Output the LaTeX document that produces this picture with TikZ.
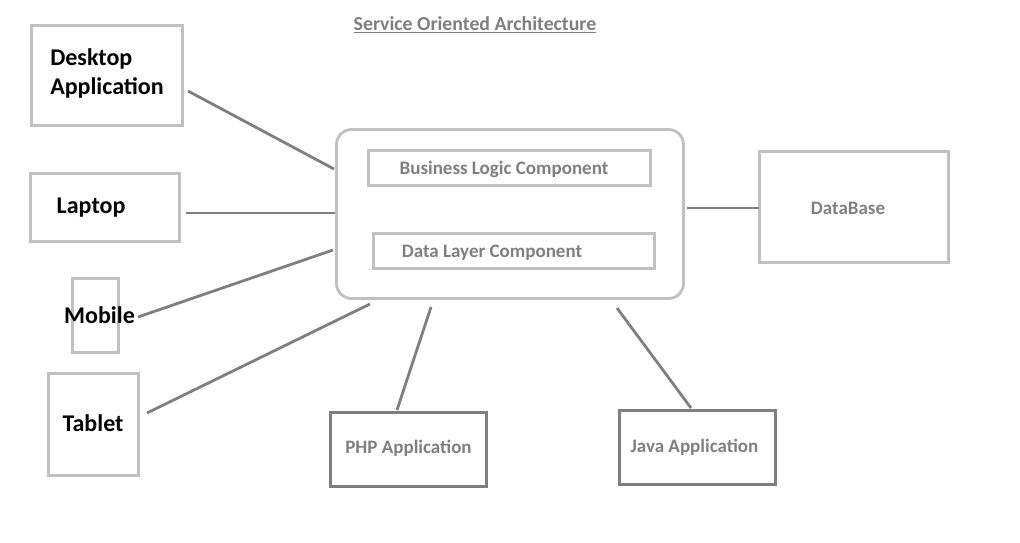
\documentclass[tikz,border=0pt]{standalone}
\usepackage{fontspec}
\setmainfont{Carlito}
\usetikzlibrary{positioning}
\definecolor{boxgray}{RGB}{192,192,192}
\definecolor{linegray}{RGB}{127,127,127}
\tikzset{
  lightbox/.style={draw=boxgray, line width=2.8pt, inner sep=0pt},
  darkbox/.style={draw=linegray, line width=2.8pt, inner sep=0pt},
  link/.style={draw=linegray, line width=2.8pt},
  bigtxt/.style={font=\fontsize{24}{29}\selectfont\bfseries, text=black},
  smalltxt/.style={font=\fontsize{19}{22}\selectfont\bfseries, text=linegray},
}

\begin{document}
\begin{tikzpicture}[x=1pt,y=-1pt]
  \useasboundingbox (0,0) rectangle (1020,542);
  \node (title) at (475,25) [smalltxt, font=\fontsize{19.8}{22}\selectfont\bfseries]{\underline{Service Oriented Architecture}};

  % clients on the left
  \node (desk) at (107,75.5) [lightbox, minimum width=151, minimum height=100,
    label={[bigtxt, align=left, yshift=2pt]center:Desktop\\Application}]{};
  \node (lap) at (105,207.5) [lightbox, minimum width=149, minimum height=68,
    label={[bigtxt, xshift=-14pt, yshift=0pt]center:Laptop}]{};
  \node (mob) at (95.5,315.5) [lightbox, minimum width=46, minimum height=74,
    label={[bigtxt, xshift=4pt, yshift=0pt]center:Mobile}]{};
  \node (tab) at (93.5,424.5) [lightbox, minimum width=90, minimum height=102,
    label={[bigtxt, xshift=-0.5pt, yshift=1pt]center:Tablet}]{};

  % service
  \node (soa) at (510,214) [lightbox, rounded corners=15pt, minimum width=347, minimum height=169]{};
  \node (bl) at (509.5,168) [lightbox, minimum width=282, minimum height=35,
    label={[smalltxt, xshift=-5.5pt, yshift=-1pt]center:Business Logic Component}]{};
  \node (dl) at (514,251) [lightbox, minimum width=281, minimum height=35,
    label={[smalltxt, xshift=-22pt, yshift=-1.5pt]center:Data Layer Component}]{};

  \node (db) at (854,207) [lightbox, minimum width=189, minimum height=111,
    label={[smalltxt, xshift=-6pt, yshift=-1.5pt]center:DataBase}]{};
  \node (php) at (408.5,449.5) [darkbox, minimum width=156, minimum height=74,
    label={[smalltxt, yshift=1pt]center:PHP Application}]{};
  \node (java) at (697.5,447.5) [darkbox, minimum width=156, minimum height=74,
    label={[smalltxt, xshift=-3pt, yshift=0pt]center:Java Application}]{};

  % connector ends
  \coordinate (desk-e) at (188,91);   \coordinate (soa-desk) at (334,169);
  \coordinate (lap-e) at (186,213);   \coordinate (soa-lap) at (335,213);
  \coordinate (mob-e) at (138,317);   \coordinate (soa-mob) at (333,250);
  \coordinate (tab-e) at (147,413);   \coordinate (soa-tab) at (370,304);
  \coordinate (php-n) at (397,410);   \coordinate (soa-php) at (431,307);
  \coordinate (java-n) at (691,408);  \coordinate (soa-java) at (617,308);
  \coordinate (soa-db) at (687,208);  \coordinate (db-w) at (759,208);

  \draw[link] (desk-e) -- (soa-desk);
  \draw[link] (lap-e) -- (soa-lap);
  \draw[link] (mob-e) -- (soa-mob);
  \draw[link] (tab-e) -- (soa-tab);
  \draw[link] (php-n) -- (soa-php);
  \draw[link] (java-n) -- (soa-java);
  \draw[link] (soa-db) -- (db-w);
\end{tikzpicture}
\end{document}
